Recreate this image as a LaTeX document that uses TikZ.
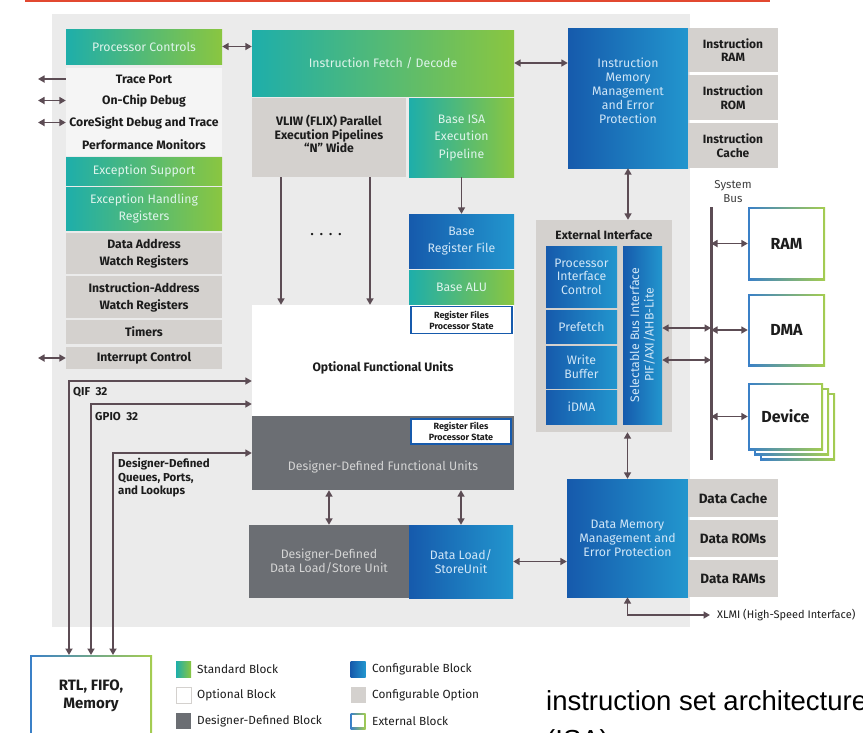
\documentclass[tikz,border=0pt]{standalone}
\usepackage{fontspec}
\setmainfont{Fira Sans}
\newfontfamily\webfont{Liberation Sans}
\usetikzlibrary{arrows.meta,calc}
\newcommand\myfs[2]{\fontsize{#1}{#2}\selectfont}
\definecolor{grnL}{RGB}{30,174,170}
\definecolor{grnR}{RGB}{138,198,64}
\definecolor{bluL}{RGB}{22,90,172}
\definecolor{bluR}{RGB}{34,150,206}
\definecolor{optg}{RGB}{212,209,206}
\definecolor{ddg}{RGB}{107,110,115}
\definecolor{bgc}{RGB}{235,235,235}
\definecolor{rowc}{RGB}{245,245,245}
\definecolor{arrc}{RGB}{92,76,84}
\definecolor{txtG}{RGB}{222,244,235}
\definecolor{txtB}{RGB}{208,230,247}
\definecolor{txtD}{RGB}{28,28,28}
\definecolor{txtDD}{RGB}{212,212,212}
\definecolor{extL}{RGB}{58,128,200}
\definecolor{extR}{RGB}{165,205,80}
\definecolor{redl}{RGB}{226,72,48}
\begin{document}
\begin{tikzpicture}[x=1pt,y=-1pt,
  blk/.style={inner sep=1pt, align=center, draw=none},
  szz/.style 2 args={minimum width=#1pt, minimum height=#2pt},
  bStd/.style={blk, left color=grnL, right color=grnR, text=txtG, font=\myfs{12.3}{14.5}},
  bCfg/.style={blk, left color=bluL, right color=bluR, text=txtB, font=\myfs{12.3}{14.5}},
  bOpt/.style={blk, fill=optg, text=txtD, font=\myfs{12.2}{14.5}\bfseries},
  bRow/.style={blk, fill=rowc, text=txtD, font=\myfs{12.2}{14.5}\bfseries},
  bDsg/.style={blk, fill=ddg, text=txtDD, font=\myfs{12.3}{14.5}},
  bRfs/.style={blk, fill=white, draw=bluL, line width=1.3pt, text=txtD, font=\myfs{9}{11}\bfseries},
  bExt/.style={blk, text=txtD, font=\myfs{16}{18}\bfseries,
    path picture={
      \shade[left color=extL, right color=extR] (path picture bounding box.south west) rectangle (path picture bounding box.north east);
      \fill[white] ([shift={(1.6pt,1.6pt)}]path picture bounding box.south west) rectangle ([shift={(-1.6pt,-1.6pt)}]path picture bounding box.north east);}},
  tB/.style={text=txtB, align=center, inner sep=0pt, font=\myfs{12.3}{14}},
  tD/.style={text=txtD, align=center, inner sep=0pt, font=\myfs{12.2}{13.5}\bfseries},
  tDD/.style={text=txtDD, align=center, inner sep=0pt, font=\myfs{12.3}{14.5}},
  sig/.style={text=txtD, align=left, inner sep=0pt, font=\myfs{11.5}{13.5}\bfseries},
  leg/.style={text=txtD, inner sep=0pt, anchor=west, font=\myfs{11.8}{13}},
  conn/.style={draw=arrc, line width=1.9pt, >={Triangle[length=6.5pt,width=7pt]}},
]
\useasboundingbox (0,0) rectangle (863,732);
\draw[redl, line width=1.2pt] (25,1) -- (770,1);
\fill[bgc] (52,14) rectangle (690,627);

% left column
\node[bStd, szz={156}{35}] (pc) at (144,46.5) {Processor Controls};
\node[bRow, szz={156}{22}] (tp) at (144,79) {Trace Port};
\node[bRow, szz={156}{21}] (ocd) at (144,100.5) {On-Chip Debug};
\node[bRow, szz={156}{23}] (cs) at (144,122.5) {CoreSight Debug and Trace};
\node[bRow, szz={156}{22}] (pm) at (144,145) {Performance Monitors};
\node[bStd, szz={156}{28}] (es) at (144,171) {Exception Support};
\node[bStd, szz={156}{43}, font=\myfs{12.3}{17}] (ehr) at (144,208.5) {Exception Handling\\Registers};
\node[bOpt, szz={156}{41}, font=\myfs{12.2}{17}\bfseries] (daw) at (144,253.5) {Data Address\\Watch Registers};
\node[bOpt, szz={156}{42}, font=\myfs{12.2}{17}\bfseries] (iaw) at (144,297) {Instruction-Address\\Watch Registers};
\node[bOpt, szz={156}{24}] (tim) at (144,332) {Timers};
\node[bOpt, szz={156}{22}] (ic) at (144,358) {Interrupt Control};

% middle column
\node[bStd, szz={262}{66}] (ifd) at (383,63) {Instruction Fetch / Decode};
\node[bOpt, szz={154}{79}] (vliw) at (329,137.5) {};
\node[tD] (vliwT) at (329,134) {VLIW (FLIX) Parallel\\Execution Pipelines\\“N” Wide};
\node[bStd, szz={105}{79}, font=\myfs{12.3}{17.5}] (bisa) at (461.5,137.5) {Base ISA\\Execution\\Pipeline};
\node[bCfg, szz={105}{54}, font=\myfs{12.3}{17}] (brf) at (461.5,241) {Base\\Register File};
\node[bStd, szz={105}{34}] (balu) at (461.5,287) {Base ALU};
\node[blk, fill=white, szz={262}{111}] (ofu) at (383,360.5) {};
\node[tD] (ofuT) at (383,368) {Optional Functional Units};
\node[bRfs, szz={101}{27}] (rf1) at (461.5,320) {Register Files\\Processor State};
\node[bDsg, szz={262}{74}] (ddfu) at (383,453) {};
\node[tDD] (ddfuT) at (383,467) {Designer-Defined Functional Units};
\node[bRfs, szz={100}{25}] (rf2) at (461,431.5) {Register Files\\Processor State};
\node[bDsg, szz={160}{73}] (dls) at (329,561.5) {Designer-Defined\\Data Load/Store Unit};
\node[bCfg, szz={104}{73}] (dlsu) at (461,561.5) {Data Load/\\StoreUnit};
\node[text=txtD, font=\myfs{13}{15}\bfseries] (dots) at (326,235) {.\ \ .\ \ .\ \ .};

% right column
\node[bCfg, szz={120}{140}] (imm) at (628,98) {};
\node[tB] (immT) at (628,90.5) {Instruction\\Memory\\Management\\and Error\\Protection};
\node[bOpt, szz={90}{44}, font=\myfs{12}{13.5}\bfseries] (iram) at (733,50) {Instruction\\RAM};
\node[bOpt, szz={90}{45}, font=\myfs{12}{13.5}\bfseries] (irom) at (733,97.5) {Instruction\\ROM};
\node[bOpt, szz={90}{45}, font=\myfs{12}{13.5}\bfseries] (icache) at (733,145.5) {Instruction\\Cache};

\node[blk, fill=optg, szz={136}{212}] (ei) at (604,326) {};
\node[tD, font=\myfs{12}{14}\bfseries] (eiT) at (604,235) {External Interface};
\node[bCfg, szz={71}{61}, font=\myfs{12.3}{13.5}] (pic) at (581.5,276.5) {Processor\\Interface\\Control};
\node[bCfg, szz={71}{33}] (pf) at (581.5,326.5) {Prefetch};
\node[bCfg, szz={71}{42}, font=\myfs{12.3}{13.5}] (wb) at (581.5,367) {Write\\Buffer};
\node[bCfg, szz={71}{34}] (idma) at (581.5,407) {iDMA};
\node[bCfg, szz={39}{178}] (sbi) at (642.5,335) {};
\node[tB, rotate=90, font=\myfs{12.3}{14.5}] (sbiT) at (642.5,335) {Selectable Bus Interface\\PIF/AXI/AHB-Lite};

\coordinate (bt) at (711,207);
\coordinate (bb) at (711,460);
\draw[arrc, line width=3pt] (bt) -- (bb);
\node[text=txtD!85, align=center, inner sep=0pt, font=\myfs{11.5}{14}] (sbus) at (733,192) {System\\Bus};
\node[bExt, szz={77}{73}] (ram) at (786.5,243.5) {RAM};
\node[bExt, szz={77}{72}] (dma) at (786.5,330) {DMA};
\node[bExt, szz={75}{67}] (dev3) at (797.5,426.5) {};
\node[bExt, szz={75}{67}] (dev2) at (791.5,421.5) {};
\node[bExt, szz={75}{67}] (dev) at (785.5,416.5) {Device};

\node[bCfg, szz={121}{118}, font=\myfs{12.3}{14}] (dmm) at (627.5,538) {Data Memory\\Management and\\Error Protection};
\node[bOpt, szz={90}{38}, font=\myfs{13.5}{15}\bfseries] (dc) at (733,498) {Data Cache};
\node[bOpt, szz={90}{37}, font=\myfs{13.5}{15}\bfseries] (drom) at (733,538.5) {Data ROMs};
\node[bOpt, szz={90}{37}, font=\myfs{13.5}{15}\bfseries] (dram) at (733,578.5) {Data RAMs};

% RTL box
\node[bExt, szz={122}{90}, anchor=north] (rtl) at (91,655) {};
\node[tD, font=\myfs{15}{18}\bfseries] (rtlT) at (91,696) {RTL, FIFO,\\Memory};

% signal lines
\coordinate (q) at (69,381);
\coordinate (g) at (91,404);
\coordinate (d) at (113,453);
\draw[conn,<->] (q |- rtl.north) -- (q) -- (q -| ofu.west);
\draw[conn,<->] (g |- rtl.north) -- (g) -- (g -| ofu.west);
\draw[conn,<->] (d |- rtl.north) -- (d) -- (d -| ddfu.west);
\node[sig, anchor=west] (qifT) at (73,392) {QIF\ \ 32};
\node[sig, anchor=west] (gpioT) at (95,417) {GPIO\ \ 32};
\node[sig, anchor=north west] (dqT) at (118,458) {Designer-Defined\\Queues, Ports,\\and Lookups};

% left side arrows
\coordinate (lx) at (38,0);
\draw[conn,->] (tp.west) -- (tp.west -| lx);
\draw[conn,<->] (ocd.west) -- (ocd.west -| lx);
\draw[conn,<->] (cs.west) -- (cs.west -| lx);
\draw[conn,<->] (ic.west) -- (ic.west -| lx);

% internal arrows
\draw[conn,<->] (pc.east) -- (pc.east -| ifd.west);
\draw[conn,<->] (ifd.east) -- (ifd.east -| imm.west);
\draw[conn,<->] (imm.south) -- (imm.south |- ei.north);
\draw[conn,<->] (dmm.north |- ei.south) -- (dmm.north);
\draw[conn,->] (bisa.south) -- (brf.north);
\coordinate (v1) at (281,0);
\coordinate (v2) at (370,0);
\draw[conn,->] (vliw.south -| v1) -- (ofu.north -| v1);
\draw[conn,->] (vliw.south -| v2) -- (ofu.north -| v2);
\draw[conn,<->] (dls.north) -- (dls.north |- ddfu.south);
\draw[conn,<->] (dlsu.north) -- (dlsu.north |- ddfu.south);
\draw[conn,<->] (dlsu.east) -- (dlsu.east -| dmm.west);
\coordinate (s1) at (0,328);
\coordinate (s2) at (0,360);
\draw[conn,<->] (sbi.east |- s1) -- (bt |- s1);
\draw[conn,<->] (sbi.east |- s2) -- (bt |- s2);
\draw[conn,<->] (bt |- ram.west) -- (ram.west);
\draw[conn,<->] (bt |- dma.west) -- (dma.west);
\draw[conn,<->] (bt |- dev.west) -- (dev.west);
\coordinate (xl) at (710,615);
\draw[conn,<->] (dmm.south) |- (xl);
\node[text=txtD, anchor=west, inner sep=0pt, font=\myfs{11}{13}] (xlT) at (717,615) {XLMI (High-Speed Interface)};

% legend
\node[blk, left color=grnL, right color=grnR, szz={15}{16}] (l1) at (183.5,669) {};
\node[leg] (l1T) at (197,669) {Standard Block};
\node[blk, fill=white, draw=optg, line width=1pt, szz={15}{16}] (l2) at (183.5,695) {};
\node[leg] (l2T) at (197,695) {Optional Block};
\node[blk, fill=ddg, szz={15}{16}] (l3) at (183.5,721) {};
\node[leg] (l3T) at (197,721) {Designer-Defined Block};
\node[blk, left color=bluL, right color=bluR, szz={15}{16}] (l4) at (358,669) {};
\node[leg] (l4T) at (372,669) {Configurable Block};
\node[blk, fill=optg, szz={15}{16}] (l5) at (358,695) {};
\node[leg] (l5T) at (372,695) {Configurable Option};
\node[bExt, szz={15}{16}] (l6) at (358,721) {};
\node[leg] (l6T) at (372,721) {External Block};

% page text
\node[anchor=base west, inner sep=0pt, text=black, font=\webfont\myfs{27.5}{32}] (isa1) at (546,710) {instruction set architecture};
\node[anchor=base west, inner sep=0pt, text=black, font=\webfont\myfs{27.5}{32}] (isa2) at (546,749) {(ISA)};
\end{tikzpicture}
\end{document}
